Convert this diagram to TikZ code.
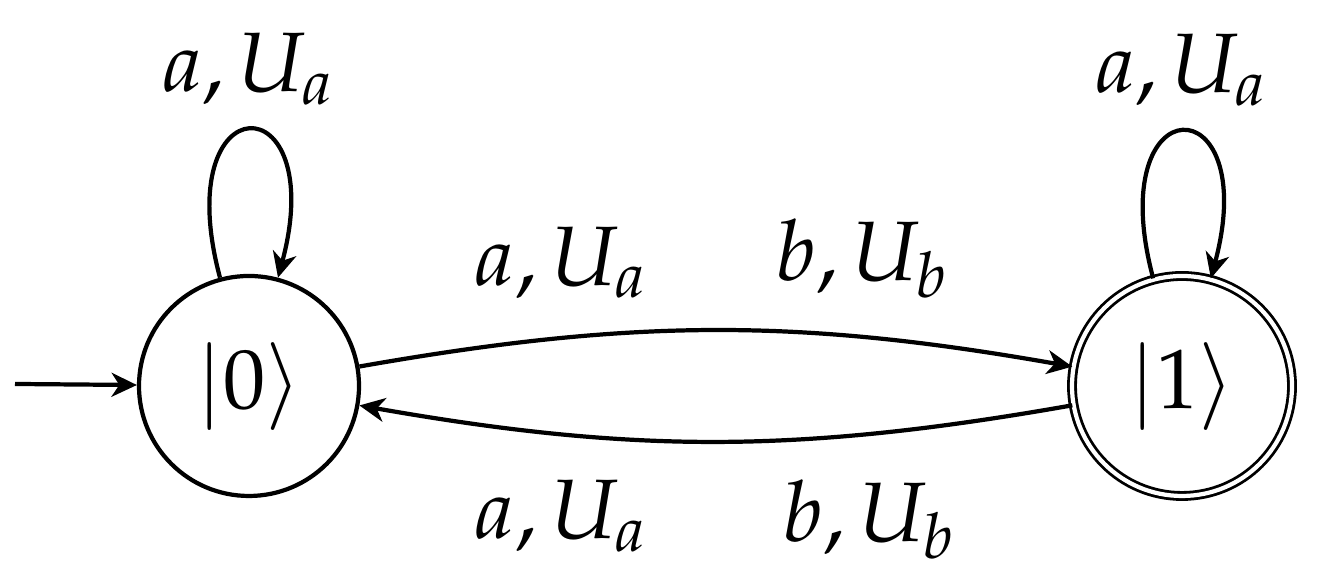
\documentclass[tikz,border=0pt]{standalone}
\usepackage{amssymb,amsmath}
\usepackage{mathpazo}
\usepackage{tikz}
\usetikzlibrary{arrows.meta,automata,positioning}
\tikzset{font={\fontsize{12pt}{14}\selectfont}}
\newcommand{\ket}[1]{\lvert #1\rangle}

\begin{document}
\begin{tikzpicture}[
>={Stealth[length=3.6pt,width=3.4pt,inset=1.1pt]},
every state/.style={draw,circle,semithick,minimum size=1.1cm,inner sep=0pt},
accepting/.style={double,thin,double distance=0.6pt},
node distance=4.665cm,on grid
]
\useasboundingbox (0,0) rectangle (6.585,2.84);
\node[state] (q0) at (1.245,0.91) {$\ket{0}$};
\node[state,accepting] (q1) [right=of q0] {$\ket{1}$};
\coordinate (start) at (0.075,0.92);

\draw[->,semithick] (start) -- (q0);
\draw[->,semithick] (q0) edge[loop above,looseness=9] node[above] {$a, U_a$} (q0)
      (q0) edge[bend left=10] node[above=2pt,pos=.27] {$a, U_a$} node[above=2pt,pos=.72] {$b, U_b$} (q1)
      (q1) edge[loop above,looseness=9] node[above] {$a, U_a$} (q1)
      (q1) edge[bend left=10] node[below=3pt,pos=.27] {$b, U_b$} node[below=3pt,pos=.73] {$a, U_a$} (q0);

\end{tikzpicture}
\end{document}
